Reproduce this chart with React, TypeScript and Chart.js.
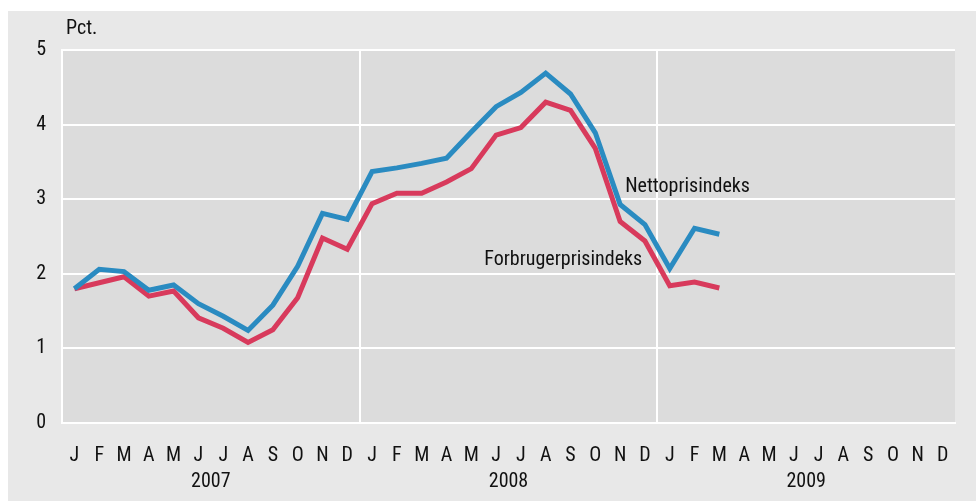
import React, { useEffect, useRef } from "react";
import { Chart, registerables } from "chart.js";

Chart.register(...registerables);

const months = ["J","F","M","A","M","J","J","A","S","O","N","D","J","F","M","A","M","J","J","A","S","O","N","D","J","F","M","A","M","J","J","A","S","O","N","D"];
const years = ["2007", "2008", "2009"];
const yTicks = [0, 1, 2, 3, 4, 5];
const nettoprisindeks = [1.80, 2.06, 2.03, 1.78, 1.85, 1.60, 1.43, 1.24, 1.58, 2.10, 2.81, 2.73, 3.37, 3.42, 3.48, 3.55, 3.90, 4.24, 4.43, 4.69, 4.41, 3.89, 2.93, 2.66, 2.07, 2.61, 2.53];
const forbrugerprisindeks = [1.80, 1.88, 1.96, 1.70, 1.77, 1.41, 1.27, 1.08, 1.25, 1.68, 2.48, 2.33, 2.94, 3.08, 3.08, 3.23, 3.41, 3.86, 3.96, 4.30, 4.19, 3.68, 2.70, 2.44, 1.84, 1.89, 1.81];
const seriesNames = ["Nettoprisindeks", "Forbrugerprisindeks"];
const unitLabel = "Pct.";

const FAMILY = "Roboto, 'DejaVu Sans Condensed', sans-serif";
const STRETCH = "condensed";
const SIZE = 20;
const TEXT = "#111111";
const tickFont = { family: FAMILY, size: SIZE, weight: STRETCH };

const bgPlugin = {
  id: "bg",
  beforeDraw(chart: any) {
    const { ctx, chartArea } = chart;
    ctx.save();
    ctx.fillStyle = "#e8e8e8";
    ctx.fillRect(8, 11, chart.width - 8, chart.height - 11);
    ctx.fillStyle = "#dcdcdc";
    ctx.fillRect(chartArea.left, chartArea.top, chartArea.right - chartArea.left, chartArea.bottom - chartArea.top);
    ctx.restore();
  },
  afterDatasetsDraw(chart: any) {
    const { ctx, chartArea, scales } = chart;
    const x = scales.x;
    const y = scales.y;
    ctx.save();
    ctx.fillStyle = TEXT;
    ctx.font = `normal ${STRETCH} ${SIZE}px ${FAMILY}`;
    ctx.textBaseline = "middle";
    ctx.textAlign = "left";
    ctx.fillText(unitLabel, chartArea.left + 4, chartArea.top - 21);
    ctx.fillText(seriesNames[0], x.getPixelForValue(22) + 5, y.getPixelForValue(3.17));
    ctx.fillText(seriesNames[1], x.getPixelForValue(16) + 13, y.getPixelForValue(2.19));
    ctx.restore();
  },
};

export default function App() {
  const ref = useRef<HTMLCanvasElement>(null);
  useEffect(() => {
    const chart = new Chart(ref.current!, {
      type: "line",
      data: {
        labels: months,
        datasets: [
          {
            label: seriesNames[0],
            data: nettoprisindeks,
            borderColor: "#2a8bc1",
            borderWidth: 5,
            pointRadius: 0,
            tension: 0,
            fill: false,
          },
          {
            label: seriesNames[1],
            data: forbrugerprisindeks,
            borderColor: "#d83a5c",
            borderWidth: 5,
            pointRadius: 0,
            tension: 0,
            fill: false,
          },
        ],
      },
      options: {
        responsive: false,
        animation: false,
        layout: { padding: { left: 0, top: 50, right: 21, bottom: 0 } },
        plugins: { legend: { display: false }, tooltip: { enabled: false } },
        scales: {
          x: {
            type: "category",
            position: "bottom",
            offset: true,
            grid: {
              offset: true,
              drawTicks: false,
              lineWidth: 2,
              color: (c: any) => (c.index % 12 === 0 ? "#ffffff" : "rgba(0,0,0,0)"),
            },
            border: { display: true, color: "#ffffff", width: 2 },
            ticks: {
              autoSkip: false,
              maxRotation: 0,
              minRotation: 0,
              padding: 21,
              color: TEXT,
              font: tickFont,
            },
            afterFit: (s: any) => { s.height = 45; },
          },
          years: {
            type: "category",
            position: "bottom",
            labels: years,
            offset: true,
            grid: { display: false, drawTicks: false },
            border: { display: false },
            ticks: {
              padding: 2,
              maxRotation: 0,
              color: TEXT,
              font: tickFont,
            },
            afterFit: (s: any) => { s.height = 33; },
          },
          y: {
            min: 0,
            max: 5,
            afterBuildTicks: (s: any) => { s.ticks = yTicks.map((v) => ({ value: v })); },
            grid: { color: "#ffffff", lineWidth: 2, drawTicks: false },
            border: { display: true, color: "#ffffff", width: 2 },
            ticks: {
              padding: 16,
              color: TEXT,
              font: tickFont,
            },
            afterFit: (s: any) => { s.width = 62; },
          },
        },
      },
      plugins: [bgPlugin],
    } as any);
    return () => chart.destroy();
  }, []);
  return (
    <div style={{ position: "fixed", left: 0, top: 0, width: 976, height: 501, background: "#ffffff" }}>
      <canvas ref={ref} width={976} height={501} style={{ display: "block" }} />
    </div>
  );
}
